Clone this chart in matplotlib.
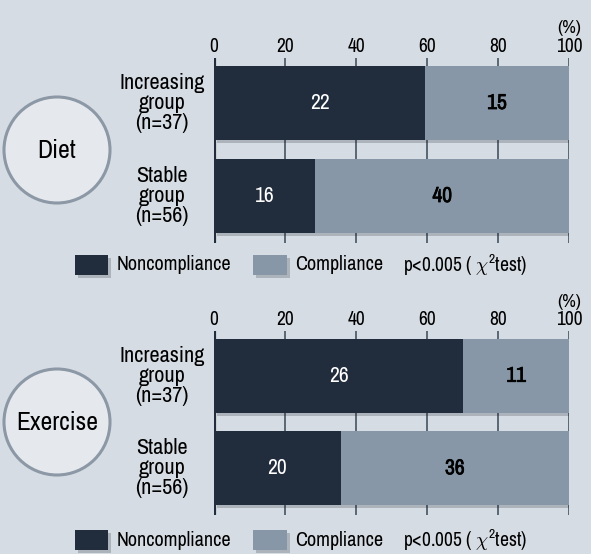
import matplotlib
matplotlib.use("Agg")
import matplotlib.pyplot as plt
import matplotlib.patheffects as pe
from matplotlib.patches import Circle, Rectangle
from matplotlib import font_manager as fm
import numpy as np

names = sorted({f.name for f in fm.fontManager.ttflist})
cond = [n for n in names if ("Condensed" in n or "Narrow" in n)]
FONT = cond[0] if cond else "Roboto"
plt.rcParams['font.family'] = [FONT, 'DejaVu Sans']
plt.rcParams['mathtext.fontset'] = 'custom'
plt.rcParams['mathtext.it'] = FONT + ':italic'
plt.rcParams['mathtext.rm'] = FONT

# ---- data ----
panels = ["Diet", "Exercise"]
groups = ["Increasing\ngroup\n(n=37)", "Stable\ngroup\n(n=56)"]
noncompliance = {"Diet": [22, 16], "Exercise": [26, 20]}
compliance = {"Diet": [15, 40], "Exercise": [11, 36]}
xticks = [0, 20, 40, 60, 80, 100]
legend_labels = ["Noncompliance", "Compliance"]
pvalue_text = "p<0.005 ( $\\chi^{2}$test)"

BG = "#d6dce3"
DARK = "#212c3c"
LIGHT = "#8797a7"
GRID = "#3a4656"
CIRC_FILL = "#e5e9ee"
CIRC_EDGE = "#8c98a5"

W, H = 591, 554
fig = plt.figure(figsize=(W / 100, H / 100), dpi=100)
fig.patch.set_facecolor(BG)

def fx(px):
    return px / W

def fy(py):
    return 1 - py / H

shadow = [pe.SimplePatchShadow(offset=(2, -2), shadow_rgbFace="#1a2330", alpha=0.22), pe.Normal()]
fakebold = [pe.withStroke(linewidth=0.5, foreground="black")]

ov = fig.add_axes([0, 0, 1, 1], zorder=0)
ov.set_xlim(0, W)
ov.set_ylim(H, 0)
ov.axis("off")
ov.patch.set_alpha(0)

panel_top = [58, 331]
panel_bot = [243, 515]
pct_y = [28, 302]
x0_px, x1_px = 214, 569
YTOP, YBOT = -0.484, 1.505

for k, name in enumerate(panels):
    top, bot = panel_top[k], panel_bot[k]
    ax = fig.add_axes([fx(x0_px), fy(bot), fx(x1_px - x0_px), (bot - top) / H], zorder=2)
    ax.patch.set_alpha(0)
    nc = np.array(noncompliance[name], dtype=float)
    cc = np.array(compliance[name], dtype=float)
    tot = nc + cc
    pnc = nc / tot * 100
    pcc = cc / tot * 100
    y = np.arange(len(groups))
    b1 = ax.barh(y, pnc, height=0.8, color=DARK, zorder=3)
    b2 = ax.barh(y, pcc, left=pnc, height=0.8, color=LIGHT, zorder=3)
    for bar in list(b1) + list(b2):
        bar.set_path_effects(shadow)
    for i in range(len(groups)):
        ax.text(pnc[i] / 2, y[i], f"{int(nc[i])}", ha="center", va="center",
                color="white", fontsize=15.5, zorder=5)
        ax.text(pnc[i] + pcc[i] / 2, y[i], f"{int(cc[i])}", ha="center", va="center",
                color="black", fontsize=15.5, fontweight="bold", zorder=5,
                path_effects=fakebold)
    ax.set_xlim(0, 100)
    ax.set_ylim(YBOT, YTOP)
    ax.set_xticks(xticks)
    ax.xaxis.tick_top()
    ax.tick_params(axis="x", length=0, pad=1.5, labelsize=14, colors="black")
    ax.set_yticks([])
    for s in ax.spines.values():
        s.set_visible(False)
    for xt in xticks[1:]:
        ax.axvline(xt, color=GRID, lw=1.1, zorder=1)
    ax.axvline(0, color=DARK, lw=3, zorder=4)

    ov.text(x1_px, pct_y[k], "(%)", ha="center", va="center", fontsize=13.5)

    for i, g in enumerate(groups):
        ycen = top + (bot - top) * (-YTOP + i) / (YBOT - YTOP)
        ov.text(162, ycen, g, ha="center", va="center", fontsize=16, linespacing=1.0)

    cy = [150, 422][k]
    circ = Circle((57, cy), 53, facecolor=CIRC_FILL, edgecolor=CIRC_EDGE, lw=2.2)
    ov.add_patch(circ)
    ov.text(57, cy, name, ha="center", va="center", fontsize=18.5)

    ly = [265, 540][k]
    r1 = Rectangle((75, ly - 10), 33, 20, facecolor=DARK, edgecolor="none")
    r2 = Rectangle((253, ly - 10), 34, 20, facecolor=LIGHT, edgecolor="none")
    for r in (r1, r2):
        r.set_path_effects(shadow)
        ov.add_patch(r)
    ov.text(117, ly, legend_labels[0], ha="left", va="center", fontsize=14.5)
    ov.text(295, ly, legend_labels[1], ha="left", va="center", fontsize=14.5)
    ov.text(403, ly, pvalue_text, ha="left", va="center", fontsize=14)

fig.savefig("out.png", dpi=100, facecolor=BG)
